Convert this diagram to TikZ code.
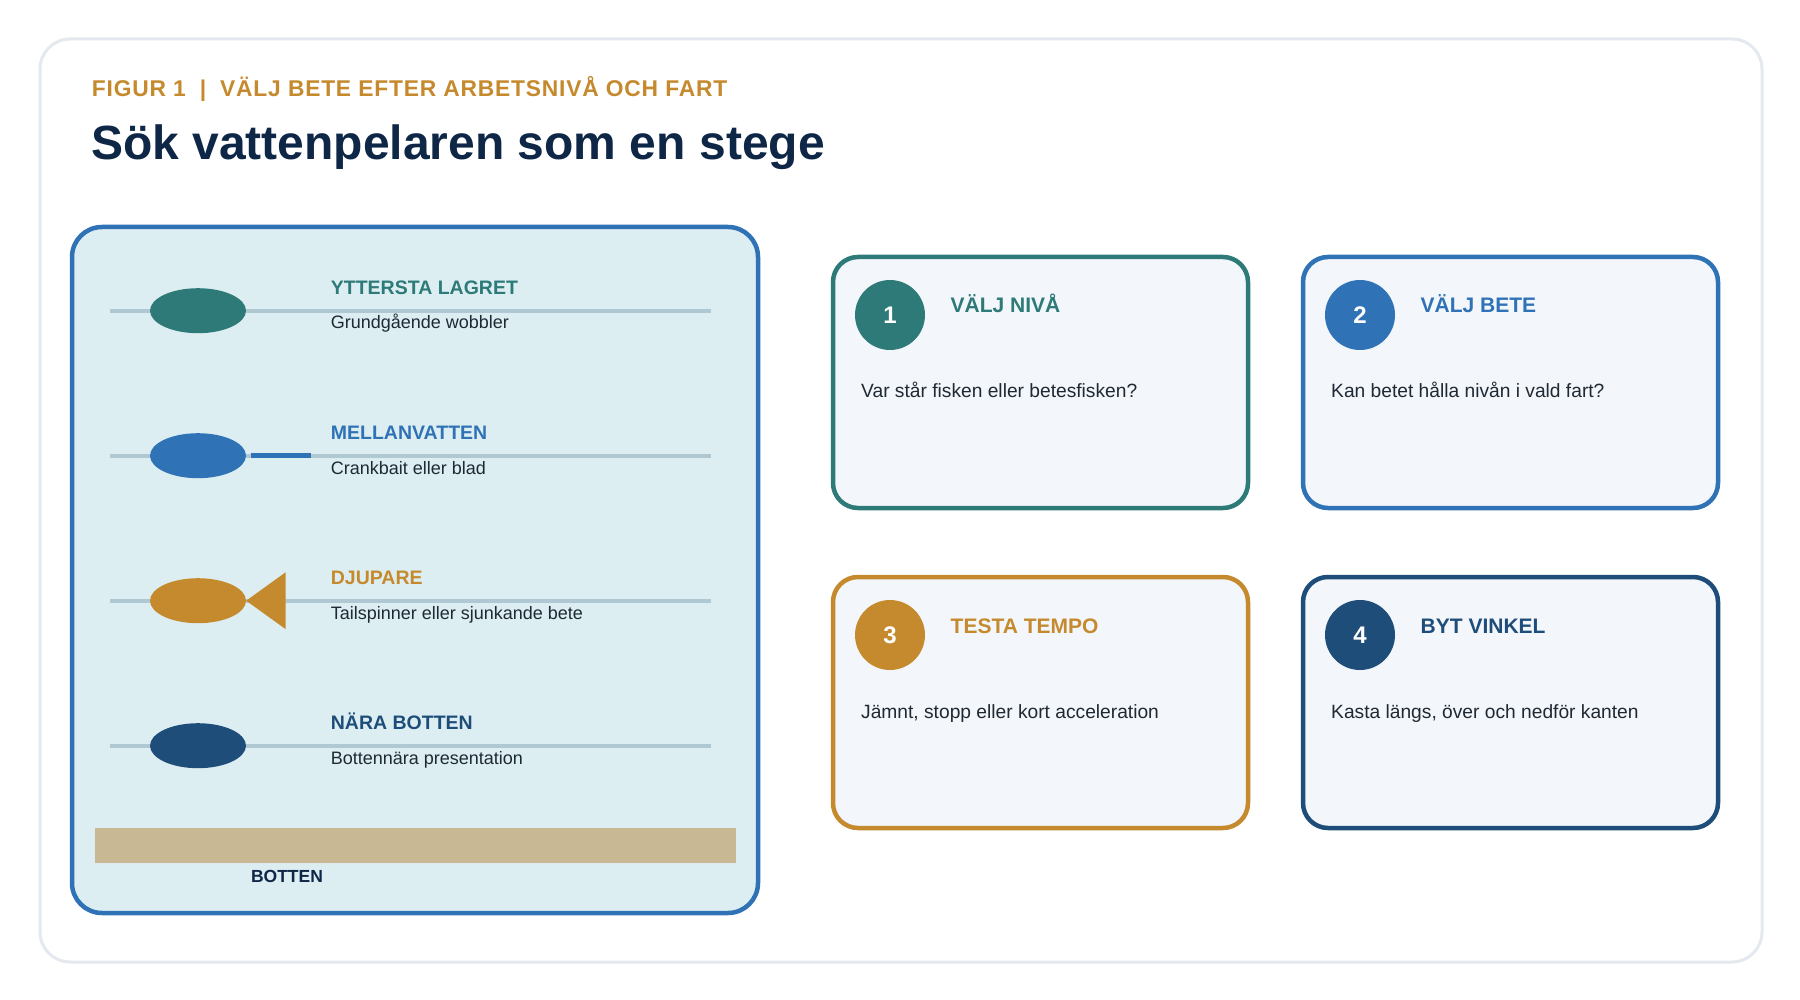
\documentclass[tikz,border=0pt]{standalone}
\usepackage{fontspec}
\setmainfont{Liberation Sans}
\newfontfamily\kickerfont[LetterSpace=3.5]{Liberation Sans}
\usetikzlibrary{shapes.geometric}
\definecolor{cTeal}{HTML}{2D7A78}
\definecolor{cBlue}{HTML}{2F72B6}
\definecolor{cGold}{HTML}{C68A2E}
\definecolor{cNavy}{HTML}{1F4D7A}
\definecolor{panelfill}{HTML}{DCEEF2}
\definecolor{linegray}{HTML}{B0C8D1}
\definecolor{barcolor}{HTML}{C8B894}
\definecolor{cardfill}{HTML}{F3F6FA}
\definecolor{framegray}{HTML}{E3E9EF}
\definecolor{titlenavy}{HTML}{0F2747}
\definecolor{bodytext}{HTML}{1F2933}
\begin{document}
\begin{tikzpicture}[x=1pt,y=-1pt,
  card/.style={draw, line width=4.5pt, rounded corners=25pt, fill=cardfill,
    minimum width=415pt, minimum height=251pt, inner sep=0pt},
  numdot/.style={circle, minimum size=70pt, inner sep=0pt, text=white,
    font=\bfseries\fontsize{24}{24}\selectfont},
  cardtitle/.style={anchor=base west, inner sep=0pt,
    font=\bfseries\fontsize{21}{25}\selectfont},
  cardbody/.style={anchor=base west, inner sep=0pt, text=bodytext,
    font=\fontsize{19.2}{23}\selectfont},
  layerhead/.style={anchor=base west, inner sep=0pt,
    font=\bfseries\fontsize{19.5}{23}\selectfont},
  layersub/.style={anchor=base west, inner sep=0pt, text=bodytext,
    font=\fontsize{18}{22}\selectfont},
  lure/.style={ellipse, minimum width=96pt, minimum height=45pt, inner sep=0pt},
  depthline/.style={line width=4pt, draw=linegray}
]
\useasboundingbox (0,0) rectangle (1800,1000);
\fill[white] (0,0) rectangle (1800,1000);

% outer frame
\node[draw=framegray, line width=3pt, fill=white, rounded corners=30pt,
  minimum width=1722pt, minimum height=923pt, inner sep=0pt] (frame) at (901,500.5) {};

% titles
\node[anchor=base west, inner sep=0pt, text=cGold,
  font=\kickerfont\bfseries\fontsize{22.8}{26}\selectfont] (kicker) at (91.7,96.7)
  {FIGUR 1\hspace{14pt}|\hspace{14pt}VÄLJ BETE EFTER ARBETSNIVÅ OCH FART};
\node[anchor=base west, inner sep=0pt, text=titlenavy,
  font=\bfseries\fontsize{48}{56}\selectfont] (title) at (91,160)
  {Sök vattenpelaren som en stege};

% water column panel
\node[draw=cBlue, fill=panelfill, line width=4.5pt, rounded corners=30pt,
  minimum width=686pt, minimum height=686pt, inner sep=0pt] (panel) at (415,570) {};

\coordinate (a1) at (110,310.7); \coordinate (b1) at (711,310.7);
\coordinate (a2) at (110,455.7); \coordinate (b2) at (711,455.7);
\coordinate (a3) at (110,600.7); \coordinate (b3) at (711,600.7);
\coordinate (a4) at (110,745.7); \coordinate (b4) at (711,745.7);
\draw[depthline] (a1) -- (b1);
\draw[depthline] (a2) -- (b2);
\draw[depthline] (a3) -- (b3);
\draw[depthline] (a4) -- (b4);

\node[lure, fill=cTeal] (l1) at (198,310.7) {};
\node[lure, fill=cBlue] (l2) at (198,455.7) {};
\node[lure, fill=cGold] (l3) at (198,600.7) {};
\node[lure, fill=cNavy] (l4) at (198,745.7) {};

% lip of the crankbait
\draw[cBlue, line width=5pt] ([xshift=4.5pt]l2.east) -- ++(60.5,0);
% tail of the tailspinner
\fill[cGold] (l3.east) -- ++(39.4,-28.4) -- ++(0,56.8) -- cycle;

\node[layerhead, text=cTeal] (h1) at (330.7,294.2) {YTTERSTA LAGRET};
\node[layersub] (s1) at (330.7,329) {Grundgående wobbler};
\node[layerhead, text=cBlue] (h2) at (330.7,439.2) {MELLANVATTEN};
\node[layersub] (s2) at (330.7,474) {Crankbait eller blad};
\node[layerhead, text=cGold] (h3) at (330.7,584.2) {DJUPARE};
\node[layersub] (s3) at (330.7,619) {Tailspinner eller sjunkande bete};
\node[layerhead, text=cNavy] (h4) at (330.7,729.2) {NÄRA BOTTEN};
\node[layersub] (s4) at (330.7,764) {Bottennära presentation};

% bottom
\node[fill=barcolor, minimum width=641pt, minimum height=35pt, inner sep=0pt] (bar) at (415.5,845.2) {};
\node[anchor=base, inner sep=0pt, text=titlenavy,
  font=\bfseries\fontsize{17.5}{21}\selectfont] (botten) at (287,882) {BOTTEN};

% step cards
\node[card, draw=cTeal] (c1) at (1040.5,382.5) {};
\node[card, draw=cBlue] (c2) at (1510.5,382.5) {};
\node[card, draw=cGold] (c3) at (1040.5,702.5) {};
\node[card, draw=cNavy] (c4) at (1510.5,702.5) {};

\node[numdot, fill=cTeal] (n1) at (890,315) {\raisebox{-2pt}{1}};
\node[numdot, fill=cBlue] (n2) at (1360,315) {\raisebox{-2pt}{2}};
\node[numdot, fill=cGold] (n3) at (890,635) {\raisebox{-2pt}{3}};
\node[numdot, fill=cNavy] (n4) at (1360,635) {\raisebox{-2pt}{4}};

\node[cardtitle, text=cTeal] (t1) at (950.5,313) {VÄLJ NIVÅ};
\node[cardtitle, text=cBlue] (t2) at (1420.5,313) {VÄLJ BETE};
\node[cardtitle, text=cGold] (t3) at (950.5,633) {TESTA TEMPO};
\node[cardtitle, text=cNavy] (t4) at (1420.5,633) {BYT VINKEL};

\node[cardbody] (d1) at (861,398) {Var står fisken eller betesfisken?};
\node[cardbody] (d2) at (1331,398) {Kan betet hålla nivån i vald fart?};
\node[cardbody] (d3) at (861,718) {Jämnt, stopp eller kort acceleration};
\node[cardbody] (d4) at (1331,718) {Kasta längs, över och nedför kanten};
\end{tikzpicture}
\end{document}
